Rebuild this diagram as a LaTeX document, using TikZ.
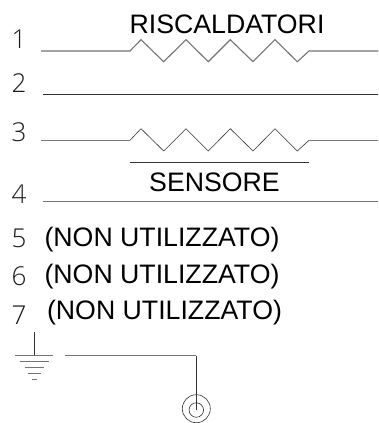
\documentclass[tikz,border=0pt]{standalone}
\usepackage{fontspec}
\setmainfont{Liberation Sans}
\newfontfamily\numfont{Open Sans Light}
\usepackage{tikz}
\tikzset{
	numlabel/.style={font=\numfont\fontsize{26}{26}\selectfont,text=black!90,inner sep=0pt},
	textlabel/.style={font=\fontsize{26.7}{26.7}\selectfont,inner sep=0pt},
	wire/.style={line width=0.6pt,black!80},
	wirethick/.style={line width=1.1pt,black!55}
}

\begin{document}
\begin{tikzpicture}[x=1pt,y=-1pt]
		\useasboundingbox (0,0) rectangle (378,423);
		\node[numlabel] (N1) at (19,39) {1};
		\node[numlabel] (N2) at (19,83) {2};
		\node[numlabel] (N3) at (19,132) {3};
		\node[numlabel] (N4) at (19,194) {4};
		\node[numlabel] (N5) at (19,238) {5};
		\node[numlabel] (N6) at (19,276) {6};
		\node[numlabel] (N7) at (19,315) {7};
		%
		\node[textlabel] (heater) at (227,24) {RISCALDATORI};
		\node[textlabel] (sensor) at (214.5,182.5) {SENSORE};
		\node[textlabel] (unused5) at (162,240) {(NON UTILIZZATO)};
		\node[textlabel] (unused6) at (162,277) {(NON UTILIZZATO)};
		\node[textlabel] (unused7) at (164.5,313) {(NON UTILIZZATO)};
		%
		\coordinate (A1) at (41,51);
		\coordinate (B1) at (378,51);
		\coordinate (A2) at (43,94.5);
		\coordinate (B2) at (378,94.5);
		\coordinate (A3) at (41,140.3);
		\coordinate (B3) at (378,140.3);
		\coordinate (A4) at (43,201.7);
		\coordinate (B4) at (378,201.7);
		\coordinate (S1) at (130,162.3);
		\coordinate (S2) at (309,162.3);
		\coordinate (G0) at (34.3,332.3);
		\coordinate (G1) at (34.3,355.7);
		\coordinate (E1) at (65.3,355.7);
		\coordinate (E2) at (196.3,355.7);
		\node[draw,circle,wire,minimum size=28pt,inner sep=0pt] (plugout) at (196.3,408.7) {};
		\node[draw,circle,wire,minimum size=14.5pt,inner sep=0pt] (plugin) at (196.3,410) {};
		%
		\draw[wirethick] (A1) -- (130,51) -- (141,39.7) -- (163.7,61.7) -- (186,39.7) -- (208.3,61.7)
			-- (230.3,39.7) -- (253,61.7) -- (275,39.7) -- (297.3,61.7) -- (309,51) -- (B1);
		\draw[wire] (A2) -- (B2);
		\draw[wire] (A3) -- (130,140.3) -- (141,128.7) -- (163.7,151) -- (186,128.7) -- (208.3,151)
			-- (230.3,128.7) -- (253,151) -- (275,128.7) -- (297.3,151) -- (309,140.3) -- (B3);
		\draw[wire] (S1) -- (S2);
		\draw[wirethick] (A4) -- (B4);
		\draw[wire] (G0) -- (G1);
		\draw[wirethick] (15,355.7) -- (53.3,355.7);
		\draw[wirethick] (19.7,361.7) -- (49.3,361.7);
		\draw[wirethick] (25,367.7) -- (44,367.7);
		\draw[wirethick] (27.7,373.7) -- (41,373.7);
		\draw[wirethick] (32,379.7) -- (36.7,379.7);
		\draw[wirethick] (E1) -- (E2);
		\draw[wire] (E2) -- (plugin.center);
\end{tikzpicture}
\end{document}
